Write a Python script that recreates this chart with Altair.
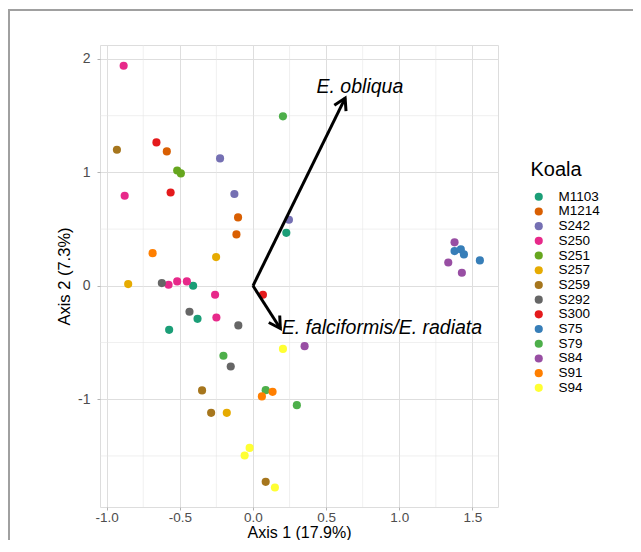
import math
import altair as alt
import pandas as pd

# ---- data ----
koala = (["M1103"] * 4 + ["M1214"] * 3 + ["S242"] * 3 + ["S250"] * 7 + ["S251"] * 2
         + ["S257"] * 3 + ["S259"] * 4 + ["S292"] * 4 + ["S300"] * 3 + ["S75"] * 4
         + ["S79"] * 4 + ["S84"] * 4 + ["S91"] * 3 + ["S94"] * 4)
axis1 = [-0.409, -0.379, -0.573, 0.228,
         -0.589, -0.102, -0.113,
         -0.225, -0.127, 0.246,
         -0.884, -0.877, -0.577, -0.518, -0.452, -0.259, -0.250,
         -0.518, -0.493,
         -0.252, -0.853, -0.179,
         -0.930, -0.348, -0.286, 0.087,
         -0.623, -0.434, -0.100, -0.152,
         -0.660, -0.563, 0.068,
         1.378, 1.421, 1.442, 1.551,
         0.205, -0.202, 0.087, 0.300,
         1.378, 1.335, 1.428, 0.353,
         -0.686, 0.134, 0.061,
         0.205, -0.023, -0.057, 0.150]
axis2 = [0.000, -0.291, -0.388, 0.467,
         1.185, 0.603, 0.453,
         1.123, 0.809, 0.582,
         1.940, 0.794, 0.009, 0.039, 0.039, -0.079, -0.279,
         1.017, 0.991,
         0.253, 0.015, -1.120,
         1.200, -0.922, -1.120, -1.728,
         0.024, -0.229, -0.349, -0.711,
         1.264, 0.823, -0.079,
         0.306, 0.321, 0.277, 0.224,
         1.494, -0.617, -0.920, -1.052,
         0.383, 0.206, 0.115, -0.532,
         0.288, -0.935, -0.975,
         -0.556, -1.429, -1.496, -1.778]

koala_levels = ["M1103", "M1214", "S242", "S250", "S251", "S257", "S259", "S292",
                "S300", "S75", "S79", "S84", "S91", "S94"]
koala_colors = ["#1B9E77", "#D95F02", "#7570B3", "#E7298A", "#66A61E", "#E6AB02",
                "#A6761D", "#666666", "#E41A1C", "#377EB8", "#4DAF4A", "#984EA3",
                "#FF7F00", "#FFFF33"]

species = ["E. obliqua", "E. falciformis/E. radiata"]
arrow_x0 = [0.0, 0.0]
arrow_y0 = [0.0, 0.0]
arrow_x1 = [0.630, 0.187]
arrow_y1 = [1.655, -0.376]
label_x = [0.4345, 0.196]
label_y = [1.697, -0.429]

x_major = [-1.0, -0.5, 0.0, 0.5, 1.0, 1.5]
x_minor = [-0.75, -0.25, 0.25, 0.75, 1.25]
y_major = [-1, 0, 1, 2]
y_minor = [-1.5, -0.5, 0.5, 1.5]

# ---- layout ----
W, H = 398, 462
XD = [-1.0457, 1.675]
YD = [-1.95, 2.123]
sx = W / (XD[1] - XD[0])
sy = H / (YD[1] - YD[0])

angles = []
for a, b, c, d in zip(arrow_x0, arrow_y0, arrow_x1, arrow_y1):
    ang = math.degrees(math.atan2((c - a) * sx, (d - b) * sy))
    angles.append(ang % 360)

pts = pd.DataFrame({"Koala": koala, "x": axis1, "y": axis2})
arrows = pd.DataFrame({"sp": species, "x0": arrow_x0, "y0": arrow_y0,
                       "x1": arrow_x1, "y1": arrow_y1, "lx": label_x, "ly": label_y,
                       "ang": angles})
xmin_df = pd.DataFrame({"v": x_minor})
ymin_df = pd.DataFrame({"v": y_minor})

xs = alt.Scale(domain=XD, nice=False, zero=False)
ys = alt.Scale(domain=YD, nice=False, zero=False)

font = "Liberation Sans"

x_axis = alt.Axis(values=x_major, title="Axis 1 (17.9%)",
                  labelExpr="replace(format(datum.value, '.1f'), '\u2212', '-')",
                  grid=True, gridColor="#DEDEDE", gridWidth=1, domain=False,
                  tickColor="#B3B3B3", tickSize=3, labelFontSize=13.5, labelColor="#4D4D4D",
                  labelPadding=0, titleFontSize=16, titleFontWeight="normal",
                  titleColor="#000000", titleY=17, titleBaseline="top",
                  labelFont=font, titleFont=font)
y_axis = alt.Axis(values=y_major, title="Axis 2 (7.3%)",
                  labelExpr="replace(format(datum.value, 'd'), '\u2212', '-')",
                  grid=True, gridColor="#DEDEDE", gridWidth=1, domain=False,
                  tickColor="#B3B3B3", tickSize=3, labelFontSize=14, labelColor="#4D4D4D",
                  labelPadding=7, titleFontSize=16.5, titleFontWeight="normal",
                  titleColor="#000000", titleX=-30.7, titleBaseline="alphabetic",
                  labelFont=font, titleFont=font)

grid_x = alt.Chart(xmin_df).mark_rule(color="#E6E6E6", strokeWidth=0.6).encode(
    x=alt.X("v:Q", scale=xs, axis=x_axis))
grid_y = alt.Chart(ymin_df).mark_rule(color="#E6E6E6", strokeWidth=0.6).encode(
    y=alt.Y("v:Q", scale=ys, axis=y_axis))

points = alt.Chart(pts).mark_circle(size=66, opacity=1).encode(
    x=alt.X("x:Q", scale=xs, axis=x_axis),
    y=alt.Y("y:Q", scale=ys, axis=y_axis),
    color=alt.Color("Koala:N", scale=alt.Scale(domain=koala_levels, range=koala_colors),
                    legend=alt.Legend(title="Koala", orient="none", legendX=430.5, legendY=115,
                                      titleFontSize=20, titleFontWeight="normal",
                                      titleColor="#000000", titleFont=font,
                                      labelFontSize=13.5, labelColor="#000000", labelFont=font,
                                      symbolType="circle", symbolSize=66, symbolStrokeWidth=0,
                                      labelOffset=13, rowPadding=-0.3, titlePadding=10,
                                      symbolOffset=1.5, padding=0)),
)

shafts = alt.Chart(arrows).mark_rule(color="black", strokeWidth=3).encode(
    x=alt.X("x0:Q", scale=xs), y=alt.Y("y0:Q", scale=ys),
    x2="x1:Q", y2="y1:Q")

heads = alt.Chart(arrows).mark_point(
    shape="M-0.5,0.866L0,0L0.5,0.866", filled=False, color="black", strokeWidth=3,
    size=676, opacity=1, strokeJoin="miter").encode(
    x=alt.X("x1:Q", scale=xs), y=alt.Y("y1:Q", scale=ys),
    angle=alt.Angle("ang:Q", scale=None))

labels = alt.Chart(arrows).mark_text(
    align="left", baseline="alphabetic", fontSize=19.5, fontStyle="italic",
    font=font, color="black").encode(
    x=alt.X("lx:Q", scale=xs), y=alt.Y("ly:Q", scale=ys), text="sp:N")

frame_top = alt.Chart(pts).mark_rule(color="#A0A0A0", strokeWidth=1.4).encode(
    x=alt.value(-92), x2=alt.value(545), y=alt.value(-35))
frame_left = alt.Chart(pts).mark_rule(color="#A0A0A0", strokeWidth=1.4).encode(
    x=alt.value(-91.3), y=alt.value(-35), y2=alt.value(520))

chart = alt.layer(grid_x, grid_y, points, shafts, heads, labels, frame_top, frame_left).properties(
    width=W, height=H,
    autosize=alt.AutoSizeParams(type="none"),
    padding={"left": 92, "top": 37, "right": 135, "bottom": 33},
).configure_view(stroke="#B3B3B3", strokeWidth=1).configure(font=font)

chart.save("out.html", embed_options={"renderer": "svg", "actions": False})
